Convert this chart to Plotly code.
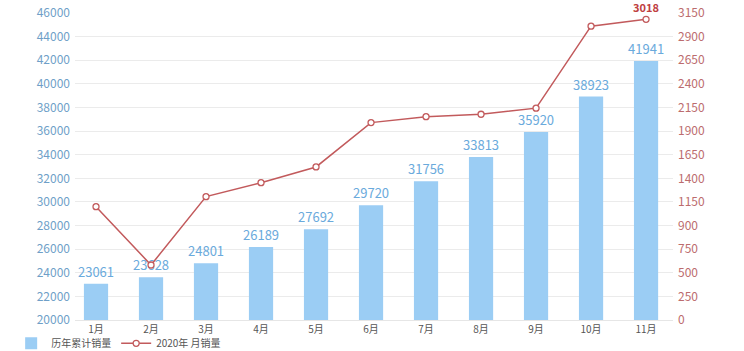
import plotly.graph_objects as go

months = ["1月", "2月", "3月", "4月", "5月", "6月", "7月", "8月", "9月", "10月", "11月"]
cumulative = [23061, 23628, 24801, 26189, 27692, 29720, 31756, 33813, 35920, 38923, 41941]
monthly = [1137, 552, 1238, 1378, 1536, 1981, 2041, 2065, 2126, 2949, 3018]
monthly_labels = ["", "", "", "", "", "", "", "", "", "", "3018"]
left_ticks = list(range(20000, 46001, 2000))
right_labels = ["0", "250", "500", "750", "900", "1150", "1400", "1650", "1900",
                "2150", "2400", "2650", "2900", "3150"]

FONT = "Noto Sans CJK SC, Noto Sans, sans-serif"
right_max = 3081
right_vals = [right_max * i / 13 for i in range(14)]

fig = go.Figure()
fig.add_trace(go.Bar(
    x=list(range(len(months))), y=cumulative, name="历年累计销量",
    marker=dict(color="#9BCDF4", line=dict(width=0)), width=0.44,
    text=[str(v) for v in cumulative], textposition="outside", constraintext="none",
    textfont=dict(color="#6AAADC", size=13, family=FONT), cliponaxis=False,
))
fig.add_trace(go.Scatter(
    x=list(range(len(months))), y=monthly, name="2020年 月销量", yaxis="y2",
    mode="lines+markers+text",
    line=dict(color="#C25A5C", width=1.5),
    marker=dict(symbol="circle", size=6, color="white", line=dict(color="#C25A5C", width=1.3)),
    text=monthly_labels, textposition="top center",
    textfont=dict(color="#C0403F", size=11, family=FONT),
    texttemplate="<b>%{text}</b>", cliponaxis=False,
))

fig.update_layout(
    width=744, height=351, margin=dict(l=75, r=71, t=13, b=31, autoexpand=False),
    paper_bgcolor="white", plot_bgcolor="white",
    font=dict(family=FONT, size=12),
    showlegend=True,
    legend=dict(orientation="h", x=0.015, xref="container", xanchor="left",
                y=0.022, yref="container", yanchor="middle",
                font=dict(size=10, color="#555555"), itemwidth=30,
                bgcolor="rgba(0,0,0,0)", tracegroupgap=0),
    xaxis=dict(range=[-0.382, 10.49], tickmode="array", tickvals=list(range(len(months))),
               ticktext=months, showgrid=False, zeroline=False, automargin=False,
               showline=True, linecolor="#E6E6E6", ticks="",
               tickfont=dict(size=10, color="#555555")),
    yaxis=dict(range=[20000, 46000], tickmode="array", tickvals=left_ticks,
               ticktext=[str(v) for v in left_ticks], automargin=False,
               showgrid=True, gridcolor="#EBEBEB", zeroline=False, showline=False,
               tickfont=dict(size=12, color="#6F9FC8"), ticklabelstandoff=4),
    yaxis2=dict(range=[0, right_max], overlaying="y", side="right", tickmode="array",
                tickvals=right_vals, ticktext=right_labels, showgrid=False, zeroline=False,
                automargin=False, showline=False,
                tickfont=dict(size=12, color="#BC6C6E"), ticklabelstandoff=4),
)

fig.write_html("out.html")
